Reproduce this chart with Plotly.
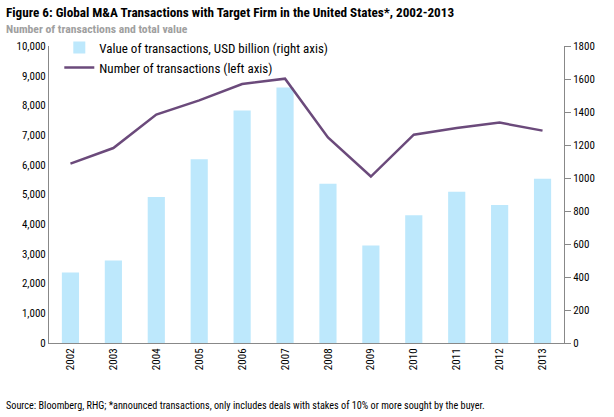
import plotly.graph_objects as go

years = ["2002", "2003", "2004", "2005", "2006", "2007", "2008", "2009", "2010", "2011", "2012", "2013"]
value_usd_bn = [427, 500, 885, 1113, 1409, 1548, 965, 591, 775, 917, 836, 996]
num_transactions = [6040, 6565, 7690, 8170, 8720, 8900, 6920, 5605, 7015, 7240, 7420, 7150]

FONT = "Liberation Sans Narrow, Arial Narrow, Roboto Condensed, Liberation Sans, sans-serif"

fig = go.Figure()
fig.add_trace(go.Bar(
    x=years, y=value_usd_bn, name="Value of transactions, USD billion (right axis)",
    marker=dict(color="#BDE8FC", line=dict(width=0)), yaxis="y", width=0.4,
))
fig.add_trace(go.Scatter(
    x=years, y=num_transactions, name="Number of transactions (left axis)",
    mode="lines", line=dict(color="#6B4A7B", width=2.5), yaxis="y2",
))

fig.update_layout(
    width=614, height=417,
    margin=dict(l=49, r=50, t=46, b=74),
    paper_bgcolor="white", plot_bgcolor="white",
    font=dict(family=FONT, size=11, color="black"),
    showlegend=True,
    legend=dict(x=0.02, y=1.045, xanchor="left", yanchor="top", bgcolor="rgba(0,0,0,0)",
                font=dict(size=13, family=FONT), tracegroupgap=0, itemwidth=30),
    xaxis=dict(type="category", tickangle=-90, showline=True, linecolor="#888888", linewidth=1,
               ticks="", tickfont=dict(size=11), showgrid=False),
    yaxis=dict(side="right", range=[0, 1800], dtick=200, showline=True, linecolor="#888888",
               linewidth=1, ticks="outside", ticklen=6, tickcolor="#888888", showgrid=False,
               zeroline=False, tickfont=dict(size=11)),
    yaxis2=dict(overlaying="y", side="left", range=[0, 10000], dtick=1000, tickformat=",",
                showline=True, linecolor="#888888", linewidth=1, ticks="", showgrid=False,
                zeroline=False, tickfont=dict(size=11)),
    bargap=0.6,
)

fig.add_annotation(text="<b>Figure 6: Global M&A Transactions with Target Firm in the United States*, 2002-2013</b>",
                   xref="paper", yref="paper", x=-45/515, y=1 + 34/297, xanchor="left", yanchor="middle",
                   showarrow=False, font=dict(size=13.2, color="black", family=FONT))
fig.add_annotation(text="<b>Number of transactions and total value</b>",
                   xref="paper", yref="paper", x=-45/515, y=1 + 17/297, xanchor="left", yanchor="middle",
                   showarrow=False, font=dict(size=11.7, color="#A0A0A0", family=FONT))
fig.add_annotation(text="Source: Bloomberg, RHG; *announced transactions, only includes deals with stakes of 10% or more sought by the buyer.",
                   xref="paper", yref="paper", x=-45/515, y=-(405-343)/297, xanchor="left", yanchor="middle",
                   showarrow=False, font=dict(size=10.2, color="black", family=FONT))

fig.write_html("out.html", config={"displayModeBar": False},
               post_script="document.body.style.margin='0';document.body.style.padding='0';")
